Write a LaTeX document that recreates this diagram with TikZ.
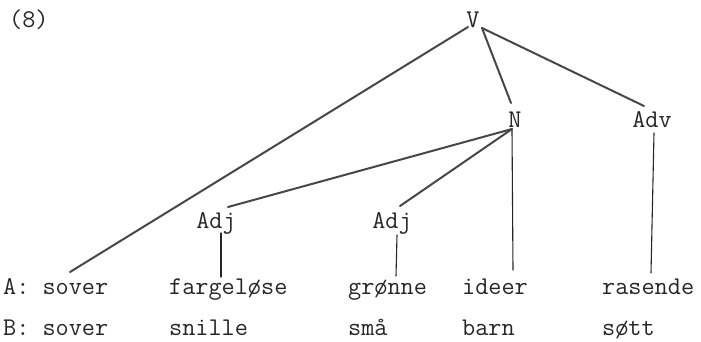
\documentclass[tikz,border=0pt]{standalone}
\usepackage{fontspec}
\usetikzlibrary{calc}
\begin{document}
\begin{tikzpicture}[x=1bp,y=-1bp,
  tw/.style={font=\ttfamily\fontsize{25.5bp}{30bp}\selectfont, text=black!85, inner sep=0pt},
  cat/.style={tw, anchor=base},
  word/.style={tw, anchor=base west},
  branch/.style={draw=black!72, line width=2bp, line cap=round},
  stem/.style={draw=black!85, line width=1.1bp, line cap=round}]
\useasboundingbox (0,0) rectangle (701,341);

% example number
\node[word] (num) at (9,27) {(8)};

% category nodes
\node[cat] (V)    at (473,27)  {V};
\node[cat] (N)    at (515,127) {N};
\node[cat] (Adv)  at (652,127) {Adv};
\node[cat] (AdjA) at (216,228) {Adj};
\node[cat] (AdjB) at (392,228) {Adj};

% reading A
\node[word] (sA) at (3,294)   {A: sover};
\node[word] (fA) at (169,294) {fargeløse};
\node[word] (gA) at (348,294) {grønne};
\node[word] (iA) at (462,294) {ideer};
\node[word] (rA) at (602,294) {rasende};

% reading B
\node[word] (sB) at (3,335)   {B: sover};
\node[word] (fB) at (169,335) {snille};
\node[word] (gB) at (348,335) {små};
\node[word] (iB) at (462,335) {barn};
\node[word] (rB) at (602,335) {søtt};

% branches from V
\draw[branch] ($(V.base)+(-5,0)$) -- ($(sA.base west)+(67,-22)$);
\draw[branch] ($(V.base)+(9,1)$) -- ($(N.base)+(-4,-24)$);
\draw[branch] ($(V.base)+(9,1)$) -- ($(Adv.base)+(-8,-21)$);

% branches from N
\draw[branch] ($(N.base)+(-3,2)$) -- ($(AdjA.base)+(12,-21)$);
\draw[branch] ($(N.base)+(-3,2)$) -- ($(AdjB.base)+(8,-22)$);
\draw[stem] ($(N.base)+(-3,3)$) -- ($(iA.base west)+(51,-24)$);

% stems to the words
\draw[stem] ($(Adv.base)+(2,6)$) -- ($(rA.base west)+(49,-21)$);
\draw[stem] ($(AdjA.base)+(5,5)$) -- ($(fA.base west)+(52,-17)$);
\draw[stem] ($(AdjB.base)+(5,7)$) -- ($(gA.base west)+(48,-18)$);
\end{tikzpicture}
\end{document}
